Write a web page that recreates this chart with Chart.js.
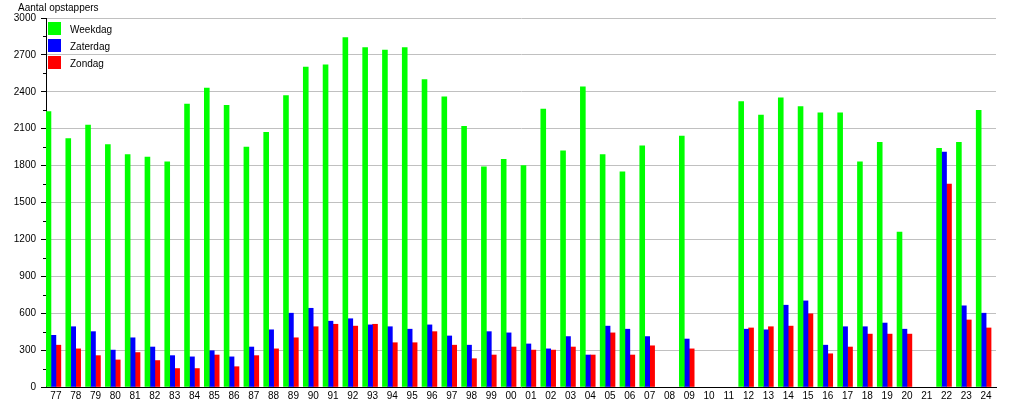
<!DOCTYPE html>
<html>
<head>
<meta charset="utf-8">
<title>Aantal opstappers</title>
<script src="https://cdn.jsdelivr.net/npm/chart.js@4"></script>
<style>
    body { margin: 0; background: #fff; }
    #wrap { width: 1015px; height: 400px; }
</style>
</head>
<body>
<div id="wrap"><canvas id="opstappersChart" width="1015" height="400"></canvas></div>
<script>
const jaren = ['77','78','79','80','81','82','83','84','85','86','87','88','89','90','91','92',
    '93','94','95','96','97','98','99','00','01','02','03','04','05','06','07','08',
    '09','10','11','12','13','14','15','16','17','18','19','20','21','22','23','24'];

const weekdag = [2240,2020,2130,1970,1890,1870,1830,2300,2430,2290,
    1950,2070,2370,2600,2620,2840,2760,2740,2760,2500,
    2360,2120,1790,1850,1800,2260,1920,2440,1890,1750,
    1960,0,2040,0,0,2320,2210,2350,2280,2230,2230,1830,1990,1260,0,1940,1990,2250];

const zaterdag = [420,490,450,300,400,325,255,245,295,245,
    325,465,600,640,535,555,505,490,470,505,
    415,340,450,440,350,310,410,260,495,470,
    410,0,390,0,0,470,465,665,700,340,490,490,520,470,0,1910,660,600];

const zondag = [340,310,255,220,280,215,150,150,260,165,
    255,310,400,490,510,495,510,360,360,450,
    340,230,260,325,300,300,325,260,440,260,
    335,0,310,0,0,480,490,495,595,270,325,430,430,430,0,1650,545,480];

const yTicks = [0,300,600,900,1200,1500,1800,2100,2400,2700,3000];

const reeksen = [
    { label: 'Weekdag', kleur: '#00ff00' },
    { label: 'Zaterdag', kleur: '#0000ff' },
    { label: 'Zondag', kleur: '#ff0000' }
];

Chart.defaults.font.family = '"Liberation Sans", Arial, sans-serif';
Chart.defaults.font.size = 10;
Chart.defaults.color = '#000';

// jaren zonder telling niet tekenen
const zonderNul = arr => arr.map(v => (v === 0 ? null : v));

// titel, legenda en kleine streepjes op de y-as
const extraTekening = {
    id: 'extraTekening',
    afterDraw(chart) {
        const ctx = chart.ctx;
        const y = chart.scales.y;
        ctx.save();
        ctx.fillStyle = '#000';
        ctx.font = '10px "Liberation Sans", Arial, sans-serif';
        ctx.textBaseline = 'alphabetic';
        ctx.fillText('Aantal opstappers', 18, 11);

        ctx.strokeStyle = '#000';
        ctx.lineWidth = 1;
        for (let v = 150; v < 3000; v += 300) {
            const py = Math.round(y.getPixelForValue(v)) + 0.5;
            ctx.beginPath();
            ctx.moveTo(chart.chartArea.left - 3, py);
            ctx.lineTo(chart.chartArea.left, py);
            ctx.stroke();
        }

        reeksen.forEach((r, i) => {
            const top = 22 + i * 17;
            ctx.fillStyle = r.kleur;
            ctx.fillRect(48, top, 13, 13);
            ctx.fillStyle = '#000';
            ctx.fillText(r.label, 70, top + 11);
        });
        ctx.restore();
    }
};

const ctx = document.getElementById('opstappersChart').getContext('2d');
new Chart(ctx, {
    type: 'bar',
    data: {
        labels: jaren,
        datasets: [
            { label: 'Weekdag', data: zonderNul(weekdag), backgroundColor: '#00ff00', borderWidth: 0 },
            { label: 'Zaterdag', data: zonderNul(zaterdag), backgroundColor: '#0000ff', borderWidth: 0 },
            { label: 'Zondag', data: zonderNul(zondag), backgroundColor: '#ff0000', borderWidth: 0 },
            // lege reeks zodat er rechts van elke groep ruimte blijft
            { label: '', data: jaren.map(() => null), backgroundColor: 'rgba(0,0,0,0)', borderWidth: 0 }
        ]
    },
    options: {
        responsive: false,
        animation: false,
        layout: { padding: { top: 18, right: 19, left: 0, bottom: 0 } },
        datasets: { bar: { categoryPercentage: 1, barPercentage: 1 } },
        plugins: {
            legend: { display: false },
            tooltip: { enabled: false }
        },
        scales: {
            x: {
                grid: { display: false, drawTicks: false },
                border: { color: '#000' },
                ticks: { autoSkip: false, maxRotation: 0, padding: 3 },
                afterFit(scale) { scale.height = 13; }
            },
            y: {
                min: 0,
                max: 3000,
                afterBuildTicks(scale) { scale.ticks = yTicks.map(v => ({ value: v })); },
                grid: { color: '#c0c0c0', tickColor: '#000', tickLength: 5 },
                border: { color: '#000' },
                ticks: { padding: 5, callback: v => String(v) },
                afterFit(scale) { scale.width = 46; }
            }
        }
    },
    plugins: [extraTekening]
});
</script>
</body>
</html>
